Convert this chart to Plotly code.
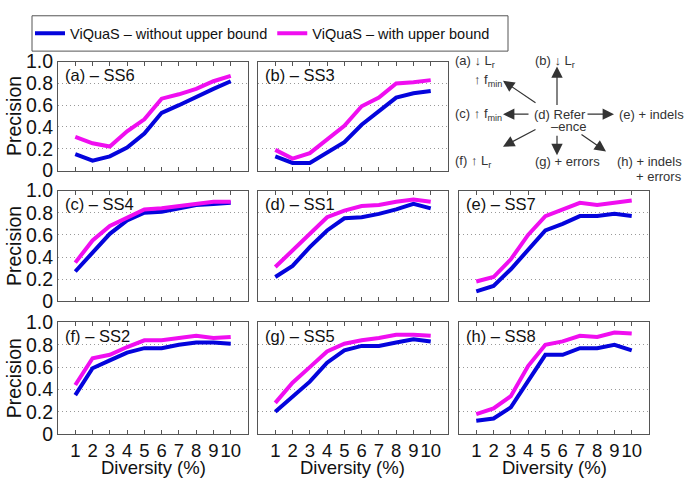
import plotly.graph_objects as go

W, H = 685, 492

diversity = [1, 2, 3, 4, 5, 6, 7, 8, 9, 10]
x_tick_labels = ["1", "2", "3", "4", "5", "6", "7", "8", "9", "10"]
y_tick_vals = [0, 0.2, 0.4, 0.6, 0.8, 1.0]
y_tick_labels = ["0", "0.2", "0.4", "0.6", "0.8", "1.0"]

panel_titles = ["(a) – SS6", "(b) – SS3", "(c) – SS4", "(d) – SS1",
                "(e) – SS7", "(f) – SS2", "(g) – SS5", "(h) – SS8"]

# Precision without upper bound (blue)
without_a = [0.15, 0.09, 0.13, 0.21, 0.34, 0.53, 0.60, 0.67, 0.75, 0.82]
without_b = [0.13, 0.07, 0.07, 0.17, 0.26, 0.42, 0.55, 0.67, 0.71, 0.73]
without_c = [0.27, 0.44, 0.61, 0.73, 0.80, 0.81, 0.84, 0.87, 0.88, 0.89]
without_d = [0.22, 0.32, 0.49, 0.64, 0.75, 0.76, 0.79, 0.83, 0.88, 0.84]
without_e = [0.09, 0.14, 0.29, 0.47, 0.64, 0.70, 0.77, 0.77, 0.79, 0.77]
without_f = [0.35, 0.59, 0.66, 0.73, 0.77, 0.77, 0.80, 0.82, 0.82, 0.81]
without_g = [0.20, 0.34, 0.47, 0.64, 0.75, 0.79, 0.79, 0.82, 0.85, 0.83]
without_h = [0.12, 0.14, 0.24, 0.48, 0.71, 0.71, 0.77, 0.77, 0.80, 0.75]

# Precision with upper bound (magenta)
with_a = [0.31, 0.25, 0.22, 0.36, 0.47, 0.66, 0.70, 0.75, 0.82, 0.87]
with_b = [0.19, 0.11, 0.16, 0.28, 0.41, 0.59, 0.67, 0.80, 0.81, 0.83]
with_c = [0.35, 0.55, 0.68, 0.76, 0.83, 0.84, 0.86, 0.88, 0.90, 0.90]
with_d = [0.31, 0.46, 0.61, 0.76, 0.82, 0.86, 0.87, 0.90, 0.92, 0.90]
with_e = [0.18, 0.22, 0.38, 0.60, 0.77, 0.83, 0.89, 0.87, 0.89, 0.91]
with_f = [0.44, 0.68, 0.71, 0.78, 0.84, 0.84, 0.86, 0.88, 0.86, 0.87]
with_g = [0.28, 0.46, 0.60, 0.74, 0.81, 0.84, 0.86, 0.89, 0.89, 0.88]
with_h = [0.18, 0.23, 0.34, 0.61, 0.80, 0.83, 0.88, 0.87, 0.91, 0.90]

without_series = [without_a, without_b, without_c, without_d,
                  without_e, without_f, without_g, without_h]
with_series = [with_a, with_b, with_c, with_d,
               with_e, with_f, with_g, with_h]

legend_names = ["ViQuaS – without upper bound", "ViQuaS – with upper bound"]
BLUE = "#0404dc"
MAGENTA = "#f00ef0"

FONT = "Liberation Sans, Arial, Helvetica, sans-serif"

# layout in pixels
col_px = [(58, 248), (258, 448), (459, 649)]
row_px = [(53, 167), (188, 304), (326, 443)]
panel_pos = [(0, 0), (0, 1), (1, 0), (1, 1), (1, 2), (2, 0), (2, 1), (2, 2)]


def px(x):
    return x / W


def py(y):
    return 1 - y / H


fig = go.Figure()
layout = dict(
    width=W, height=H,
    margin=dict(l=0, r=0, t=0, b=0),
    paper_bgcolor="white", plot_bgcolor="white",
    font=dict(family=FONT, color="#111"),
    showlegend=True,
)
annotations = []

for i, (r, c) in enumerate(panel_pos):
    n = i + 1
    xa = "x" if n == 1 else f"x{n}"
    ya = "y" if n == 1 else f"y{n}"
    fig.add_trace(go.Scatter(
        x=diversity, y=without_series[i], mode="lines",
        line=dict(color=BLUE, width=4), name=legend_names[0],
        showlegend=(i == 0), xaxis=xa, yaxis=ya))
    fig.add_trace(go.Scatter(
        x=diversity, y=with_series[i], mode="lines",
        line=dict(color=MAGENTA, width=4), name=legend_names[1],
        showlegend=(i == 0), xaxis=xa, yaxis=ya))
    x0, x1 = col_px[c]
    y0, y1 = row_px[r]
    key = "" if n == 1 else str(n)
    layout["xaxis" + key] = dict(
        domain=[px(x0), px(x1)], range=[0, 11], anchor=ya,
        tickmode="array", tickvals=diversity, ticktext=x_tick_labels,
        showticklabels=(r == 2), tickangle=0,
        ticks="inside", ticklen=4, tickcolor="#555",
        showline=True, linecolor="#555", linewidth=1, mirror="ticks",
        showgrid=False, zeroline=False,
        tickfont=dict(size=18.5, color="#111", family=FONT),
    )
    layout["yaxis" + key] = dict(
        domain=[py(y1), py(y0)], range=[0, 1], anchor=xa,
        tickmode="array", tickvals=y_tick_vals, ticktext=y_tick_labels,
        showticklabels=(c == 0), ticks="",
        showline=True, linecolor="#555", linewidth=1, mirror=True,
        showgrid=True, gridcolor="#999999", gridwidth=1, griddash="1px,3px",
        zeroline=False,
        tickfont=dict(size=19.5, color="#111", family=FONT),
    )
    annotations.append(dict(
        xref="paper", yref="paper", x=px(x0 + 5), y=py(y0 + 14),
        xanchor="left", yanchor="middle", showarrow=False,
        text=panel_titles[i], font=dict(size=16.5, color="#111")))

# axis titles
for (y0, y1) in row_px:
    annotations.append(dict(
        xref="paper", yref="paper", x=px(14), y=py((y0 + y1) / 2),
        xanchor="center", yanchor="middle", showarrow=False, textangle=-90,
        text="Precision", font=dict(size=19.5, color="#111")))
for (x0, x1) in col_px:
    annotations.append(dict(
        xref="paper", yref="paper", x=px((x0 + x1) / 2), y=py(478),
        xanchor="center", yanchor="middle", showarrow=False,
        text="Diversity (%)", font=dict(size=18.5, color="#111")))

# schematic diagram (top right)
DG = "#333"
diag_texts = [
    ("(a) ↓ L<sub>r</sub>", 453, 53, "left"),
    ("↑ f<sub>min</sub>", 472, 73, "left"),
    ("(b) ↓ L<sub>r</sub>", 533, 53, "left"),
    ("(c) ↑ f<sub>min</sub>", 453, 108, "left"),
    ("(d) Refer", 532, 108, "left"),
    ("–ence", 549, 121, "left"),
    ("(e) + indels", 617, 108, "left"),
    ("(f) ↑ L<sub>r</sub>", 453, 158, "left"),
    ("(g) + errors", 533, 158, "left"),
    ("(h) + indels", 615, 158, "left"),
    ("+ errors", 684, 173, "right"),
]
for t, x, y, anc in diag_texts:
    annotations.append(dict(
        xref="paper", yref="paper", x=px(x), y=py(y),
        xanchor=anc, yanchor="middle", showarrow=False,
        text=t, font=dict(size=13, color=DG)))

diag_arrows = [  # tail -> head (pixels)
    ((537, 96), (503, 73)),
    ((557, 98), (557, 58)),
    ((530, 108), (503, 108)),
    ((586, 108), (614, 108)),
    ((537, 124), (503, 142)),
    ((557, 130), (557, 151)),
    ((580, 129), (606, 147)),
]
for (tx, ty), (hx, hy) in diag_arrows:
    annotations.append(dict(
        xref="paper", yref="paper", x=px(hx), y=py(hy),
        axref="pixel", ayref="pixel", ax=tx - hx, ay=ty - hy,
        text="", showarrow=True, arrowhead=2, arrowsize=1.9,
        arrowwidth=1.2, arrowcolor=DG, standoff=0, startstandoff=0))

layout["annotations"] = annotations
layout["shapes"] = [dict(
    type="rect", xref="paper", yref="paper",
    x0=px(32), x1=px(508), y0=py(42), y1=py(5),
    line=dict(color="#555", width=1), fillcolor="rgba(0,0,0,0)")]
layout["legend"] = dict(
    orientation="h", x=px(30), y=py(23.5), xanchor="left", yanchor="middle",
    bgcolor="rgba(0,0,0,0)", borderwidth=0,
    font=dict(size=14.5, color="#111", family=FONT),
    itemwidth=30,
)

fig.update_layout(**layout)
fig.write_html("out.html",
               config={"displayModeBar": False},
               post_script="document.body.style.margin='0';"
                           "document.body.style.padding='0';")
